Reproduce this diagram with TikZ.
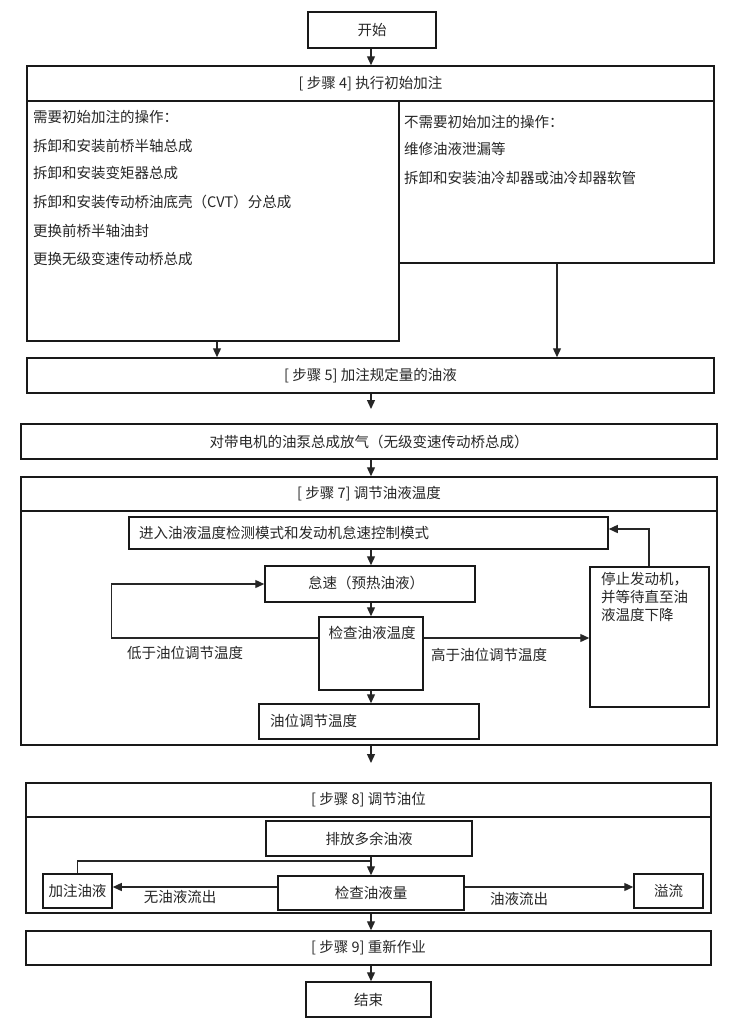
\documentclass[tikz,border=0pt]{standalone}
\usepackage{fontspec}
\newfontfamily\cjk{Noto Sans CJK SC}
\usetikzlibrary{arrows.meta,fit}
\begin{document}
\begin{tikzpicture}[x=1pt,y=-1pt,
  bx/.style={draw=black!90,line width=1.5pt,inner sep=0pt},
  txt/.style={font=\cjk\fontsize{14.5}{18}\selectfont,inner sep=0pt,text=black!85},
  ar/.style={draw=black!85,line width=1.3pt,-{Triangle[length=9pt,width=8pt]}},
  ln/.style={draw=black!85,line width=1.3pt}]
\useasboundingbox (0,0) rectangle (731,1031);
\coordinate (mx) at (371,0);
\coordinate (xa) at (217,0);
\coordinate (xb) at (557,0);
\coordinate (xr) at (649,0);
\coordinate (yc) at (0,638);
\coordinate (ya) at (0,887);
\coordinate (yr) at (0,529);

% start
\node[bx,fit={(308,12) (436,48)}] (start) {};
\node[txt] at (start) {开始};

% step 4
\node[bx,fit={(27,66) (714,101)}] (s4) {};
\node[txt] at (s4) {[ 步骤 4] 执行初始加注};
\node[bx,fit={(27,101) (399,341)}] (s4l) {};
\node[bx,fit={(399,101) (714,263)}] (s4r) {};
\node[txt,anchor=west] at (33,117) {需要初始加注的操作：};
\node[txt,anchor=west] at (33,146) {拆卸和安装前桥半轴总成};
\node[txt,anchor=west] at (33,173) {拆卸和安装变矩器总成};
\node[txt,anchor=west] at (33,202) {拆卸和安装传动桥油底壳（CVT）分总成};
\node[txt,anchor=west] at (33,231) {更换前桥半轴油封};
\node[txt,anchor=west] at (33,259) {更换无级变速传动桥总成};
\node[txt,anchor=west] at (404,122) {不需要初始加注的操作：};
\node[txt,anchor=west] at (404,149) {维修油液泄漏等};
\node[txt,anchor=west] at (404,178) {拆卸和安装油冷却器或油冷却器软管};

% step 5
\node[bx,fit={(27,358) (714,393)}] (s5) {};
\node[txt] at (s5) {[ 步骤 5] 加注规定量的油液};
\coordinate (e1) at (371,409);

% pump
\node[bx,fit={(21,424) (717,459)}] (pump) {};
\node[txt] at (pump) {对带电机的油泵总成放气（无级变速传动桥总成）};

% step 7
\node[bx,fit={(21,477) (717,511)}] (s7h) {};
\node[txt] at (s7h) {[ 步骤 7] 调节油液温度};
\node[bx,fit={(21,511) (717,745)}] (s7b) {};
\node[bx,fit={(129,517) (608,549)}] (enter) {};
\node[txt,anchor=west] at (139,533) {进入油液温度检测模式和发动机怠速控制模式};
\node[bx,fit={(265,566) (475,602)}] (idle) {};
\node[txt] at (366,583) {怠速（预热油液）};
\node[bx,fit={(319,617) (423,690)}] (chk) {};
\node[txt] at (372,633) {检查油液温度};
\node[bx,fit={(590,567) (709,707)}] (stop) {};
\node[txt,anchor=north west,align=left] at (601,572) {停止发动机，\\并等待直至油\\液温度下降};
\node[bx,fit={(259,704) (479,739)}] (oil) {};
\node[txt,anchor=west] at (270,721) {油位调节温度};
\node[txt] at (185,653) {低于油位调节温度};
\node[txt] at (489,655) {高于油位调节温度};
\coordinate (e2) at (371,763);

% step 8
\node[bx,fit={(26,783) (711,817)}] (s8h) {};
\node[txt] at (s8h) {[ 步骤 8] 调节油位};
\node[bx,fit={(26,817) (711,913)}] (s8b) {};
\node[bx,fit={(266,821) (472,856)}] (drain) {};
\node[txt] at (drain) {排放多余油液};
\node[bx,fit={(278,876) (464,910)}] (qty) {};
\node[txt] at (qty) {检查油液量};
\node[bx,fit={(43,874) (112,908)}] (fill) {};
\node[txt] at (fill) {加注油液};
\node[bx,fit={(634,874) (703,908)}] (over) {};
\node[txt] at (over) {溢流};
\node[txt] at (180,897) {无油液流出};
\node[txt] at (519,899) {油液流出};
\coordinate (j) at (371,861);

% step 9 and end
\node[bx,fit={(26,931) (711,965)}] (s9) {};
\node[txt] at (s9) {[ 步骤 9] 重新作业};
\node[bx,fit={(306,982) (431,1017)}] (fin) {};
\node[txt] at (fin) {结束};

% connectors
\draw[ar] (start.south -| mx) -- (s4.north -| mx);
\draw[ar] (s4l.south -| xa) -- (s5.north -| xa);
\draw[ar] (s4r.south -| xb) -- (s5.north -| xb);
\draw[ar] (s5.south -| mx) -- (e1);
\draw[ar] (pump.south -| mx) -- (s7h.north -| mx);
\draw[ar] (enter.south -| mx) -- (idle.north -| mx);
\draw[ar] (idle.south -| mx) -- (chk.north -| mx);
\draw[ar] (chk.south -| mx) -- (oil.north -| mx);
\draw[ar] (chk.west |- yc) -- ++(-207,0) |- (idle.west);
\draw[ar] (chk.east |- yc) -- (stop.west |- yc);
\draw[ar] (stop.north -| xr) -- (xr |- yr) -- (enter.east |- yr);
\draw[ar] (s7b.south -| mx) -- (e2);
\draw[ar] (drain.south -| mx) -- (qty.north -| mx);
\draw[ln] (j) -| (fill.north);
\draw[ar] (qty.west |- ya) -- (fill.east |- ya);
\draw[ar] (qty.east |- ya) -- (over.west |- ya);
\draw[ar] (s8b.south -| mx) -- (s9.north -| mx);
\draw[ar] (s9.south -| mx) -- (fin.north -| mx);
\end{tikzpicture}
\end{document}
